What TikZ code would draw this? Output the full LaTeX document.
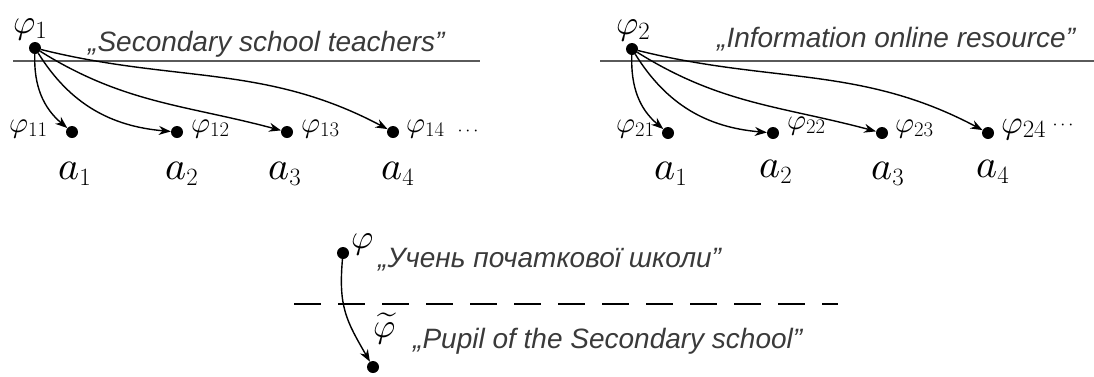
\documentclass[tikz,border=0pt]{standalone}
\usepackage{fontspec}
\setsansfont{Liberation Sans}
\DeclareFontShape{OML}{cmm}{m}{it}{<->cmmi10}{}
\DeclareFontShape{OMS}{cmsy}{m}{n}{<->cmsy10}{}
\DeclareFontShape{OMX}{cmex}{m}{n}{<->cmex10}{}
\usetikzlibrary{arrows.meta}
\definecolor{txt}{HTML}{3A3A3A}
\definecolor{rulec}{HTML}{5A5A5A}
\begin{document}
\begin{tikzpicture}[x=1pt,y=1pt,
  dot/.style={circle,fill=black,inner sep=0pt,minimum size=12pt},
  plbl/.style={anchor=base west,inner sep=0pt,font=\fontsize{34}{36}\selectfont},
  slbl/.style={anchor=base west,inner sep=0pt,font=\fontsize{29}{31}\selectfont},
  albl/.style={anchor=base west,inner sep=0pt,font=\fontsize{40}{42}\selectfont},
  quote/.style={anchor=base west,inner sep=0pt,text=txt,font=\sffamily\itshape\fontsize{28}{30}\selectfont},
  arr/.style={line width=1.4pt,-{Stealth[length=12pt,width=9pt]}},
  hline/.style={line width=2pt,draw=rulec},
  dline/.style={line width=1.6pt,draw=black,dash pattern=on 27pt off 17pt}
]
\useasboundingbox (0,0) rectangle (1094,-376);

% ---------- left panel ----------
\coordinate (l1s) at (13,-61);
\coordinate (l1e) at (480,-61);
\draw[hline] (l1s) -- (l1e);
\node[dot] (p1) at (35,-48) {};
\node[plbl] (p1l) at (13,-33) {$\varphi_1$};
\node[quote] (q1) at (88,-51) {„Secondary school teachers”};
\node[dot] (d11) at (72,-132) {};
\node[dot] (d12) at (177,-132) {};
\node[dot] (d13) at (287,-132) {};
\node[dot] (d14) at (393,-132) {};
\node[slbl] (f11) at (9,-132) {$\varphi_{11}$};
\node[slbl] (f12) at (191,-132) {$\varphi_{12}$};
\node[slbl] (f13) at (301,-132) {$\varphi_{13}$};
\node[slbl] (f14) at (406,-132) {$\varphi_{14}$};
\node[inner sep=0pt,font=\fontsize{18}{20}\selectfont] (c1) at (468,-131) {$\cdots$};
\node[albl] (a11) at (58,-179) {$a_1$};
\node[albl] (a12) at (165,-179) {$a_2$};
\node[albl] (a13) at (268,-179) {$a_3$};
\node[albl] (a14) at (381,-179) {$a_4$};
\draw[arr] (p1) to[out=-92,in=140] (d11);
\draw[arr] (p1) to[out=-58,in=175] (d12);
\draw[arr] (p1) to[out=-32,in=165] (d13);
\draw[arr] (p1) to[out=-14,in=152] (d14);

% ---------- right panel ----------
\coordinate (l2s) at (600,-61);
\coordinate (l2e) at (1094,-61);
\draw[hline] (l2s) -- (l2e);
\node[dot] (p2) at (632,-49) {};
\node[plbl] (p2l) at (616,-34) {$\varphi_2$};
\node[quote] (q2) at (717,-47) {„Information online resource”};
\node[dot] (d21) at (668,-133) {};
\node[dot] (d22) at (773,-133) {};
\node[dot] (d23) at (882,-133) {};
\node[dot] (d24) at (988,-133) {};
\node[slbl] (f21) at (616,-132) {$\varphi_{21}$};
\node[slbl] (f22) at (787,-129) {$\varphi_{22}$};
\node[slbl] (f23) at (895,-132) {$\varphi_{23}$};
\node[slbl,font=\fontsize{33}{35}\selectfont] (f24) at (1001,-133) {$\varphi_{24}$};
\node[inner sep=0pt,font=\fontsize{18}{20}\selectfont] (c2) at (1063,-125) {$\cdots$};
\node[albl] (a21) at (654,-179) {$a_1$};
\node[albl] (a22) at (759,-177) {$a_2$};
\node[albl] (a23) at (871,-179) {$a_3$};
\node[albl] (a24) at (976,-177) {$a_4$};
\draw[arr] (p2) to[out=-92,in=140] (d21);
\draw[arr] (p2) to[out=-58,in=175] (d22);
\draw[arr] (p2) to[out=-32,in=165] (d23);
\draw[arr] (p2) to[out=-14,in=152] (d24);

% ---------- bottom ----------
\coordinate (ds) at (294,-304);
\coordinate (de) at (838,-304);
\draw[dline] (ds) -- (de);
\node[dot] (p) at (343,-253) {};
\node[plbl] (pl) at (351,-248) {$\varphi$};
\node[quote] (q3) at (378,-267) {„Учень початкової школи”};
\node[dot] (pt) at (373,-367) {};
\node[plbl] (ptl) at (373,-337) {$\widetilde{\varphi}$};
\node[quote] (q4) at (413,-348) {„Pupil of the Secondary school”};
\draw[arr] (p) to[out=-95,in=120,looseness=1.15] (pt);
\end{tikzpicture}
\end{document}
